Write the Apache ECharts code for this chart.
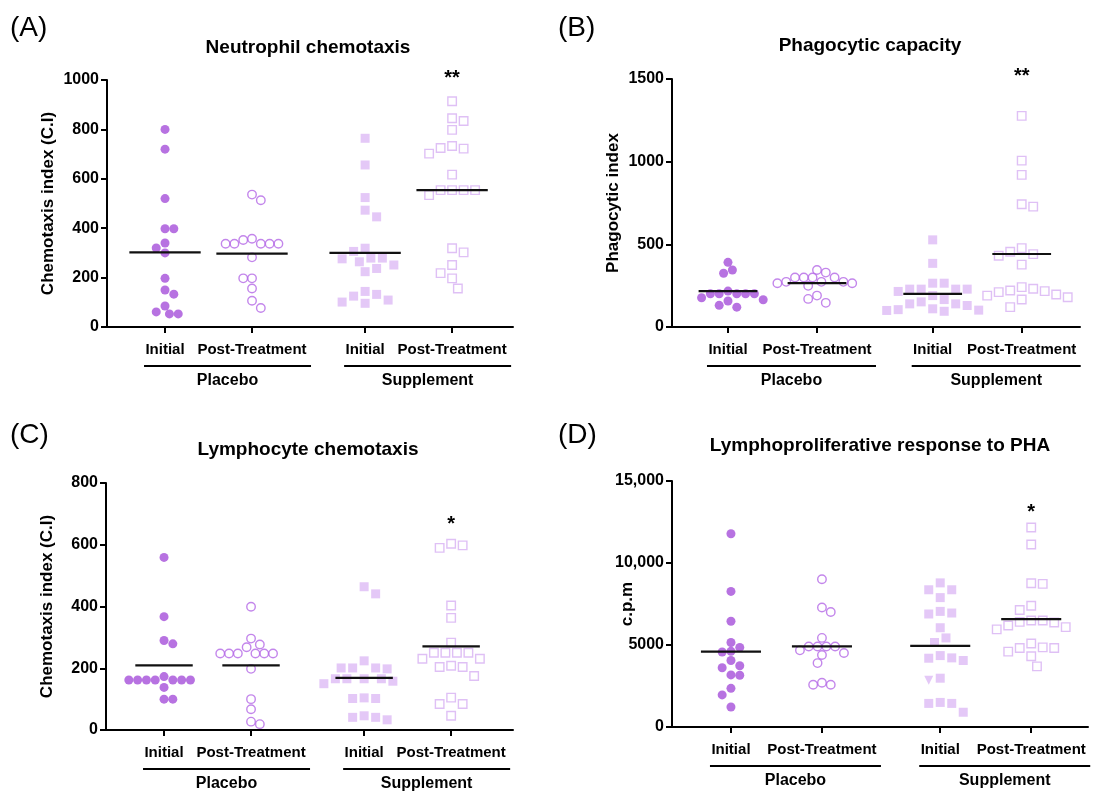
<!DOCTYPE html>
<html>
<head>
<meta charset="utf-8">
<script src="https://cdn.jsdelivr.net/npm/echarts@6/dist/echarts.min.js"></script>
<style>
  html, body { margin: 0; padding: 0; background: #fff; }
  #main { width: 1093px; height: 791px; }
</style>
</head>
<body>
<div id="main"></div>
<script>
// ---- values ----
const tickLabels = ['Initial', 'Post-Treatment', 'Initial', 'Post-Treatment'];
const groupPos = [1, 2, 3.3, 4.3];
const groupNames = ['Placebo', 'Supplement'];

const panelLetters = ['(A)', '(B)', '(C)', '(D)'];
const panelTitles = ['Neutrophil chemotaxis', 'Phagocytic capacity', 'Lymphocyte chemotaxis', 'Lymphoproliferative response to PHA'];
const yNames = ['Chemotaxis index (C.I)', 'Phagocytic index', 'Chemotaxis index (C.I)', 'c.p.m'];
const yMax = [1000, 1500, 800, 15000];
const yStep = [200, 500, 200, 5000];
const stars = ['**', '**', '*', '*'];
const starY = [1005, 1515, 665, 13050];

// (A) neutrophil chemotaxis
const neutroPI = [800, 720, 520, 398, 398, 340, 320, 300, 197, 150, 133, 85, 53, 53, 61];
const neutroPP = [536, 513, 357, 352, 337, 337, 337, 337, 337, 282, 197, 197, 156, 106, 77];
const neutroSI = [764, 656, 524, 473, 446, 319, 306, 279, 279, 276, 264, 251, 237, 224, 144, 132, 125, 109, 101, 96];
const neutroSP = [914, 845, 834, 798, 733, 725, 722, 702, 617, 554, 554, 554, 554, 534, 319, 302, 251, 218, 197, 156];

// (B) phagocytic capacity
const phagoPI = [391, 345, 325, 217, 201, 201, 201, 201, 201, 177, 165, 157, 131, 120];
const phagoPP = [345, 329, 299, 299, 299, 299, 273, 273, 273, 265, 265, 249, 190, 170, 146];
const phagoSI = [527, 385, 265, 265, 229, 229, 229, 229, 215, 190, 166, 152, 140, 140, 130, 110, 102, 100, 95, 105];
const phagoSP = [1277, 1006, 920, 742, 728, 477, 455, 441, 431, 377, 241, 231, 221, 217, 211, 197, 190, 180, 166, 120];

// (C) lymphocyte chemotaxis
const lymphoPI = [559, 367, 290, 279, 173, 162, 162, 162, 162, 162, 162, 162, 138, 100, 100];
const lymphoPP = [399, 296, 277, 268, 248, 248, 248, 248, 248, 248, 198, 100, 67, 27, 19];
const lymphoSI = [441, 464, 224, 198, 201, 201, 201, 166, 166, 166, 166, 150, 158, 102, 104, 102, 33, 46, 41, 41];
const lymphoSP = [590, 598, 603, 403, 363, 283, 250, 250, 250, 250, 231, 231, 204, 204, 208, 175, 84, 84, 105, 46];

// (D) lymphoproliferative response
const prolifPI = [11784, 8268, 6451, 5153, 4853, 4614, 4574, 4054, 3735, 3615, 3176, 3156, 2357, 1957, 1218];
const prolifPP = [9008, 7290, 7010, 5432, 4913, 4913, 4913, 4913, 4673, 4514, 4394, 3895, 2696, 2576, 2576];
const prolifSI = [8788, 8368, 8368, 7889, 7050, 6950, 6890, 6052, 5432, 5153, 4354, 4214, 4194, 4054, 2976, 2856, 1498, 1438, 1438, 899];
const prolifSP = [12163, 11124, 8728, 8768, 7130, 7390, 6371, 6191, 6411, 6491, 6092, 6491, 5952, 4813, 4594, 4853, 5093, 4813, 4314, 3695];
const prolifSITriangle = 15; // this one point is drawn as a down triangle

const panelData = [
  [neutroPI, neutroPP, neutroSI, neutroSP],
  [phagoPI, phagoPP, phagoSI, phagoSP],
  [lymphoPI, lymphoPP, lymphoSI, lymphoSP],
  [prolifPI, prolifPP, prolifSI, prolifSP]
];

// ---- layout ----
const FONT = 'Liberation Sans, Arial, Helvetica, sans-serif';
const layout = [
  { left: 107, top: 80, width: 406, height: 247, xMin: 0.333, xMax: 5.0, hw: 0.41, gap: 50, lx: 10, ly: 30, tx: 308, ty: 48 },
  { left: 672, top: 79, width: 408, height: 248, xMin: 0.371, xMax: 4.955, hw: 0.33, gap: 50, lx: 558, ly: 30, tx: 870, ty: 46 },
  { left: 106, top: 483, width: 407, height: 247, xMin: 0.333, xMax: 5.011, hw: 0.33, gap: 50, lx: 10, ly: 437, tx: 308, ty: 450 },
  { left: 672, top: 481, width: 416, height: 246, xMin: 0.352, xMax: 4.924, hw: 0.33, gap: 36, lx: 558, ly: 437, tx: 880, ty: 446 }
];
const markerStyles = [
  { symbol: 'circle', size: 9, itemStyle: { color: '#A54FDA' }, d: 8.8 },
  { symbol: 'circle', size: 8.5, itemStyle: { color: 'rgba(255,255,255,0)', borderColor: '#B468E6', borderWidth: 1.4 }, d: 8.8 },
  { symbol: 'rect', size: 9, itemStyle: { color: '#DDBAF5' }, d: 11.5 },
  { symbol: 'rect', size: 8.5, itemStyle: { color: 'rgba(255,255,255,0)', borderColor: '#D7B0F3', borderWidth: 1.4 }, d: 11.5 }
];

function mean(arr) {
  return arr.reduce((s, v) => s + v, 0) / arr.length;
}

// simple beeswarm: spread points that would overlap sideways
function swarmOffsets(ys, d) {
  const order = ys.map((y, i) => i).sort((a, b) => ys[a] - ys[b]);
  const placed = [];
  const offs = [];
  let flip = 1;
  order.forEach(i => {
    const y = ys[i];
    for (let k = 0; k < 200; k++) {
      const cands = k === 0 ? [0] : [flip * k * d / 2, -flip * k * d / 2];
      const ok = cands.find(x => placed.every(p => (p.x - x) ** 2 + (p.y - y) ** 2 >= d * d * 0.98));
      if (ok !== undefined) {
        offs[i] = ok;
        placed.push({ x: ok, y: y });
        if (ok !== 0) flip = -flip;
        break;
      }
    }
  });
  return offs;
}

const chart = echarts.init(document.getElementById('main'), null, { renderer: 'canvas' });

const grid = [], xAxis = [], yAxis = [], series = [], graphic = [];

layout.forEach((L, p) => {
  grid.push({ left: L.left, top: L.top, width: L.width, height: L.height, containLabel: false });
  xAxis.push({
    type: 'value', gridIndex: p, min: L.xMin, max: L.xMax,
    splitLine: { show: false },
    axisLine: { onZero: false, lineStyle: { color: '#000', width: 2 } },
    axisTick: { customValues: groupPos, length: 6, lineStyle: { color: '#000', width: 2 } },
    axisLabel: {
      customValues: groupPos, margin: 15, color: '#000', fontFamily: FONT, fontWeight: 'bold', fontSize: 15,
      formatter: v => tickLabels[groupPos.findIndex(g => Math.abs(g - v) < 1e-6)] || ''
    }
  });
  yAxis.push({
    type: 'value', gridIndex: p, min: 0, max: yMax[p], interval: yStep[p],
    name: yNames[p], nameLocation: 'middle', nameGap: L.gap, nameMoveOverlap: false,
    nameTextStyle: { color: '#000', fontFamily: FONT, fontWeight: 'bold', fontSize: 17 },
    splitLine: { show: false },
    axisLine: { show: true, onZero: false, lineStyle: { color: '#000', width: 2 } },
    axisTick: { show: true, length: 6, lineStyle: { color: '#000', width: 2 } },
    axisLabel: {
      color: '#000', fontFamily: FONT, fontWeight: 'bold', fontSize: 16, margin: 8,
      formatter: v => (v >= 10000 ? v.toLocaleString('en-US') : String(v))
    }
  });

  panelData[p].forEach((vals, g) => {
    const M = markerStyles[g];
    series.push({
      type: 'scatter', xAxisIndex: p, yAxisIndex: p, z: 3,
      symbol: M.symbol, symbolSize: M.size, itemStyle: M.itemStyle,
      data: vals.map(v => [groupPos[g], v]),
      silent: true
    });
  });

  // mean lines
  series.push({
    type: 'custom', xAxisIndex: p, yAxisIndex: p, z: 5, clip: false, silent: true,
    data: panelData[p].map((vals, g) => [groupPos[g], mean(vals)]),
    renderItem: (params, api) => {
      const a = api.coord([api.value(0) - L.hw, api.value(1)]);
      const b = api.coord([api.value(0) + L.hw, api.value(1)]);
      return { type: 'line', shape: { x1: a[0], y1: a[1], x2: b[0], y2: b[1] }, style: { stroke: '#111', lineWidth: 2.2 } };
    }
  });

  // group brackets under the tick labels
  series.push({
    type: 'custom', xAxisIndex: p, yAxisIndex: p, z: 5, clip: false, silent: true,
    data: [[groupPos[0], groupPos[1], 0], [groupPos[2], groupPos[3], 1]],
    encode: { x: [0, 1], y: 2 },
    renderItem: (params, api) => {
      const a = api.coord([api.value(0), 0]);
      const b = api.coord([api.value(1), 0]);
      const x1 = a[0] - 21, x2 = b[0] + 59, yb = a[1] + 39;
      return {
        type: 'group', children: [
          { type: 'line', shape: { x1: x1, y1: yb, x2: x2, y2: yb }, style: { stroke: '#000', lineWidth: 2 } },
          { type: 'text', x: (x1 + x2) / 2, y: yb + 15, style: { text: groupNames[params.dataIndex], fill: '#000', font: 'bold 16px ' + FONT, align: 'center', verticalAlign: 'middle' } }
        ]
      };
    }
  });

  // significance stars
  series.push({
    type: 'custom', xAxisIndex: p, yAxisIndex: p, z: 5, clip: false, silent: true,
    data: [[groupPos[3], starY[p]]],
    renderItem: (params, api) => {
      const c = api.coord([api.value(0), api.value(1)]);
      return { type: 'text', x: c[0], y: c[1], style: { text: stars[p], fill: '#000', font: 'bold 20px ' + FONT, align: 'center', verticalAlign: 'middle' } };
    }
  });

  graphic.push({ type: 'text', left: L.lx, top: L.ly - 16, style: { text: panelLetters[p], fill: '#000', font: '28px ' + FONT } });
  graphic.push({ type: 'text', x: L.tx, y: L.ty, style: { text: panelTitles[p], fill: '#000', font: 'bold 19px ' + FONT, align: 'center', verticalAlign: 'middle' } });
});

chart.setOption({ backgroundColor: '#fff', animation: false, grid, xAxis, yAxis, series, graphic });

// spread overlapping markers sideways (pixel offsets from the axis scale)
let sIdx = 0;
const update = [];
panelData.forEach((groups, p) => {
  groups.forEach((vals, g) => {
    const ys = vals.map(v => chart.convertToPixel({ gridIndex: p }, [groupPos[g], v])[1]);
    const offs = swarmOffsets(ys, markerStyles[g].d);
    const data = vals.map((v, i) => {
      const item = { value: [groupPos[g], v], symbolOffset: [offs[i], 0] };
      if (p === 3 && g === 2 && i === prolifSITriangle) {
        item.symbol = 'triangle';
        item.symbolRotate = 180;
      }
      return item;
    });
    update[sIdx + g] = { data };
  });
  for (let k = 0; k < 3; k++) update[sIdx + 4 + k] = {};
  sIdx += 7;
});
chart.setOption({ series: update });
</script>
</body>
</html>
